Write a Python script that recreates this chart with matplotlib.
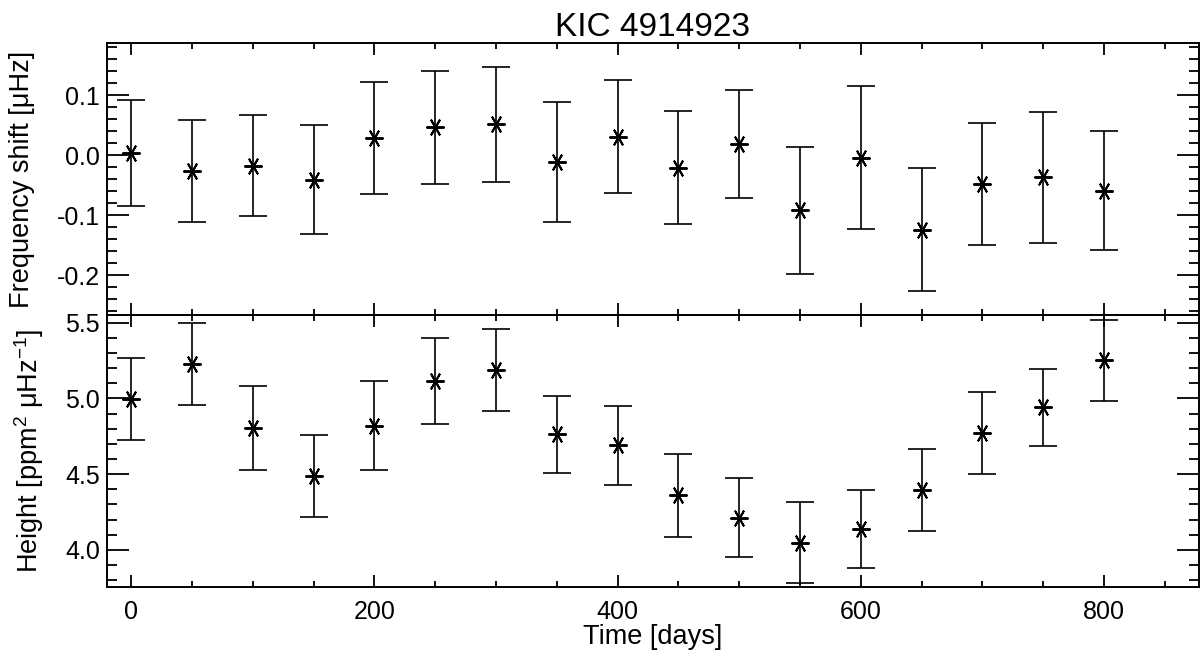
import numpy as np
import matplotlib
matplotlib.use('Agg')
from matplotlib import pyplot as plt
from matplotlib.ticker import MultipleLocator, FormatStrFormatter

plt.rcParams['font.family'] = ['Liberation Sans', 'DejaVu Sans']
plt.rcParams['mathtext.fontset'] = 'custom'
plt.rcParams['mathtext.rm'] = 'Liberation Sans'
plt.rcParams['mathtext.it'] = 'Liberation Sans:italic'

# time of each subseries [days]
time_days = [0, 50, 100, 150, 200, 250, 300, 350, 400,
             450, 500, 550, 600, 650, 700, 750, 800]

# frequency shift [muHz] and its error
freq_shift = [0.004, -0.027, -0.018, -0.041, 0.028, 0.046, 0.051, -0.011, 0.031,
              -0.021, 0.018, -0.092, -0.004, -0.124, -0.048, -0.037, -0.059]
freq_err = [0.088, 0.085, 0.084, 0.091, 0.093, 0.094, 0.096, 0.100, 0.094,
            0.094, 0.090, 0.105, 0.119, 0.102, 0.102, 0.109, 0.099]

# mode height [ppm^2/muHz] and its error
height = [4.996, 5.228, 4.805, 4.485, 4.820, 5.115, 5.188, 4.762, 4.690,
          4.360, 4.212, 4.046, 4.137, 4.396, 4.771, 4.940, 5.252]
height_err = [0.268, 0.270, 0.280, 0.271, 0.293, 0.287, 0.272, 0.257, 0.260,
              0.275, 0.262, 0.267, 0.257, 0.271, 0.268, 0.257, 0.267]

star = (6, 2, 90)
fig = plt.figure(figsize=(12, 6.58), dpi=100)
ax1 = fig.add_axes([0.089, 0.5213, 0.91, 0.4128])
ax2 = fig.add_axes([0.089, 0.1074, 0.91, 0.4139], sharex=ax1)

for ax, y, e in [(ax1, freq_shift, freq_err), (ax2, height, height_err)]:
    ax.errorbar(time_days, y, yerr=e, fmt='none', ecolor='black',
                elinewidth=1.2, capsize=10, capthick=1.2)
    ax.plot(time_days, y, linestyle='none', marker=star, markersize=13,
            markeredgewidth=1.4, color='black')
    ax.tick_params(which='both', direction='in', top=True, right=True,
                   labelsize=18, width=1.3)
    ax.tick_params(axis='y', which='major', length=16, pad=5)
    ax.tick_params(axis='y', which='minor', length=7)
    ax.tick_params(axis='x', which='major', length=8.5, pad=9)
    ax.tick_params(axis='x', which='minor', length=4.5)
    ax.xaxis.set_major_locator(MultipleLocator(200))
    ax.xaxis.set_minor_locator(MultipleLocator(50))
    for s in ax.spines.values():
        s.set_linewidth(1.4)

ax1.set_xlim(-20, 878)
ax1.set_ylim(-0.266, 0.186)
ax1.yaxis.set_major_locator(MultipleLocator(0.1))
ax1.yaxis.set_minor_locator(MultipleLocator(0.02))
ax1.yaxis.set_major_formatter(FormatStrFormatter('%.1f'))
ax1.tick_params(labelbottom=False)
ax1.set_ylabel('Frequency shift [\u03bcHz]', fontsize=19.5)
ax1.set_title('KIC 4914923', fontsize=24, pad=4)
ax1.yaxis.set_label_coords(-0.066, 0.5)

ax2.set_ylim(3.752, 5.551)
ax2.yaxis.set_major_locator(MultipleLocator(0.5))
ax2.yaxis.set_minor_locator(MultipleLocator(0.1))
ax2.yaxis.set_major_formatter(FormatStrFormatter('%.1f'))
ax2.set_ylabel('Height [ppm$^2$ \u03bcHz$^{-1}$]', fontsize=19.5)
ax2.set_xlabel('Time [days]', fontsize=19.5, labelpad=0)
ax2.yaxis.set_label_coords(-0.056, 0.5)

fig.savefig('out.png', dpi=100)
